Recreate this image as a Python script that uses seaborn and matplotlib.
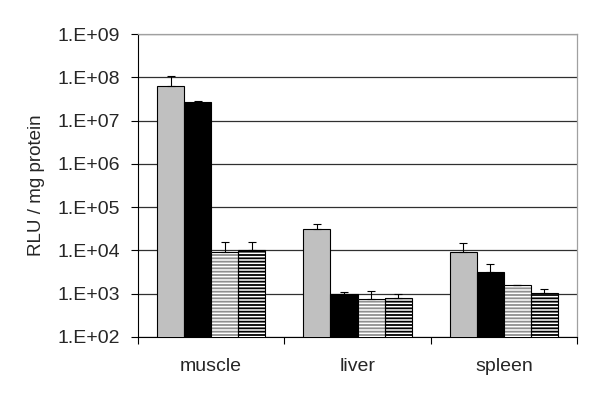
import numpy as np
import pandas as pd
import seaborn as sns
import matplotlib.pyplot as plt
from matplotlib.ticker import FuncFormatter, FixedLocator

# values (RLU / mg protein)
tissues = ['muscle', 'liver', 'spleen']
series = ['A', 'B', 'C', 'D']
means = {
    'A': [6.2e7, 3.05e4, 9.1e3],
    'B': [2.7e7, 1.0e3, 3.2e3],
    'C': [9.1e3, 7.5e2, 1.56e3],
    'D': [1.0e4, 7.9e2, 1.04e3],
}
err_top = {
    'A': [1.1e8, 4.0e4, 1.5e4],
    'B': [2.8e7, 1.08e3, 4.9e3],
    'C': [1.6e4, 1.15e3, 1.6e3],
    'D': [1.6e4, 9.6e2, 1.28e3],
}

rows = []
for s in series:
    for t, m in zip(tissues, means[s]):
        rows.append({'tissue': t, 'series': s, 'value': m})
df = pd.DataFrame(rows)

sns.set_style('white')
plt.rcParams['font.family'] = ['Liberation Sans', 'DejaVu Sans']
plt.rcParams['hatch.linewidth'] = 1.3

fig = plt.figure(figsize=(6.0, 4.03), dpi=100)
ax = fig.add_axes([0.23, 0.1638, 0.7317, 0.7518])

palette = {'A': '#C0C0C0', 'B': '#000000', 'C': '#FFFFFF', 'D': '#FFFFFF'}
sns.barplot(data=df, x='tissue', y='value', hue='series', order=tissues,
            hue_order=series, palette=palette, errorbar=None, width=0.74,
            gap=0, edgecolor='black', linewidth=0.8, ax=ax, legend=False)
ax.set_yscale('log')

# hatching for the two striped series, plus upper-only error bars
hatch_col = {'C': '#909090', 'D': '#000000'}
for i, s in enumerate(series):
    bars = ax.containers[i]
    xs = [p.get_x() + p.get_width() / 2 for p in bars.patches]
    tops = np.array(means[s])
    ax.errorbar(xs, tops, yerr=[np.zeros(3), np.array(err_top[s]) - tops],
                fmt='none', ecolor='black', elinewidth=0.8, capsize=3,
                capthick=0.8, zorder=4)
    for p in bars.patches:
        p.set_zorder(3)
    if s in hatch_col:
        for p in bars.patches:
            p.set_hatch('-----')
            p.set_edgecolor(hatch_col[s])
            p.set_linewidth(0)
            ax.add_patch(plt.Rectangle((p.get_x(), p.get_y()), p.get_width(),
                                       p.get_height(), fill=False,
                                       edgecolor='black', linewidth=0.8,
                                       zorder=3.5))

ax.set_ylim(1e2, 1e9)
ax.set_xlim(-0.5, 2.5)
ax.yaxis.set_major_locator(FixedLocator([10.0 ** k for k in range(2, 10)]))
ax.yaxis.set_minor_locator(FixedLocator([]))
ax.yaxis.set_major_formatter(FuncFormatter(lambda v, p: '1.E+%02d' % round(np.log10(v))))
ax.grid(axis='y', color='#303030', linewidth=0.9, zorder=1)
ax.set_axisbelow(True)

ax.xaxis.set_minor_locator(FixedLocator([-0.5, 0.5, 1.5, 2.5]))
ax.tick_params(axis='x', which='major', length=0, pad=15, labelsize=14)
ax.tick_params(axis='x', which='minor', length=5, width=0.8, direction='out',
               color='black', bottom=True)
ax.tick_params(axis='y', which='major', length=5, width=0.8, direction='out',
               color='black', left=True, labelsize=14, pad=8)

ax.set_xlabel('')
ax.set_ylabel('RLU / mg protein', fontsize=13.5, labelpad=9)

for side in ['left', 'bottom']:
    ax.spines[side].set_color('black')
    ax.spines[side].set_linewidth(0.8)
for side in ['top', 'right']:
    ax.spines[side].set_visible(True)
    ax.spines[side].set_color('#A0A0A0')
    ax.spines[side].set_linewidth(0.9)

fig.savefig('out.png', dpi=100)
